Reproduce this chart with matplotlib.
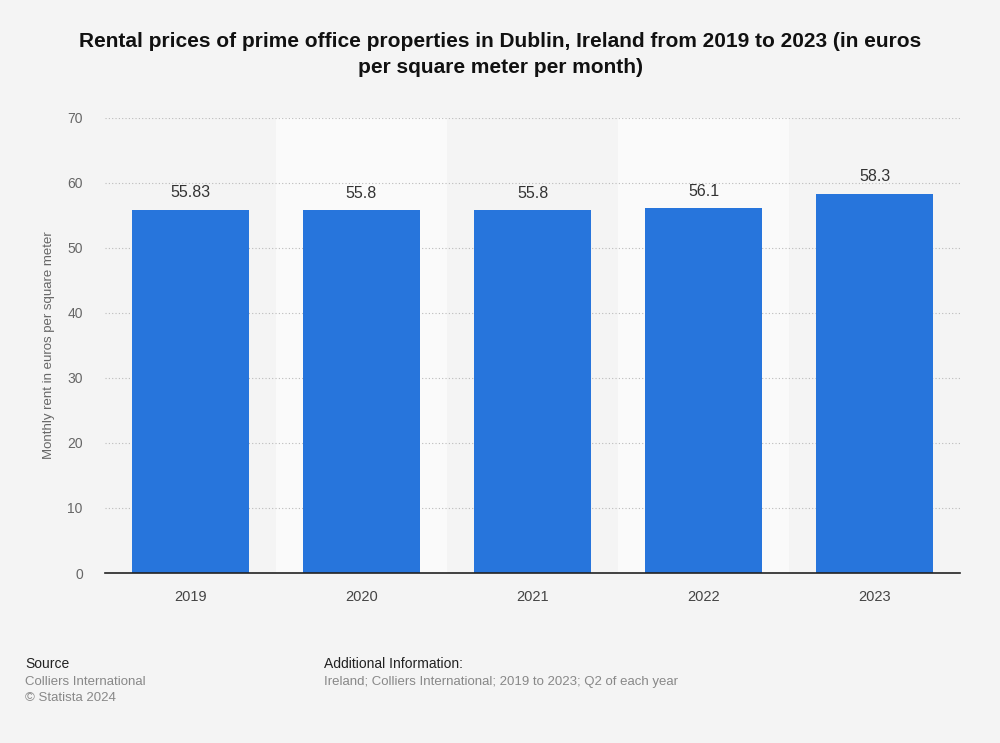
import numpy as np
import matplotlib.pyplot as plt
from matplotlib.patches import Rectangle

# data
years = ['2019', '2020', '2021', '2022', '2023']
rents = [55.83, 55.8, 55.8, 56.1, 58.3]
labels = ['55.83', '55.8', '55.8', '56.1', '58.3']

plt.rcParams['font.family'] = ['Liberation Sans', 'DejaVu Sans']

fig = plt.figure(figsize=(10, 7.43), dpi=100)
fig.patch.set_facecolor('#f4f4f4')
ax = fig.add_axes([0.105, 0.2288, 0.855, 0.6124])
ax.set_facecolor('#f4f4f4')

x = np.arange(len(years))
ax.set_xlim(-0.5, len(years) - 0.5)
ax.set_ylim(0, 70)

# lighter stripes behind every other category
for i in x:
    if i % 2 == 1:
        ax.add_patch(Rectangle((i - 0.5, 0), 1, 70, facecolor='#fafafa', edgecolor='none', zorder=0))

ax.set_yticks(np.arange(0, 71, 10))
ax.grid(axis='y', color='#bbbbbb', linestyle=(0, (1, 2)), linewidth=0.8, zorder=1)
ax.set_axisbelow(True)

bars = ax.bar(x, rents, width=0.69, color='#2775dc', zorder=2)
for xi, v, lab in zip(x, rents, labels):
    ax.text(xi, v + 1.5, lab, ha='center', va='bottom', fontsize=11.5, color='#333333')

ax.set_xticks(x)
ax.set_xticklabels(years)
ax.tick_params(axis='x', length=0, pad=12, labelsize=10.5, labelcolor='#444444')
ax.tick_params(axis='y', length=0, pad=16, labelsize=10, labelcolor='#666666')
for s in ['top', 'right', 'left']:
    ax.spines[s].set_visible(False)
ax.spines['bottom'].set_color('#222222')
ax.spines['bottom'].set_linewidth(1.2)

ax.set_ylabel('Monthly rent in euros per square meter', fontsize=9.5, color='#666666', labelpad=9)

fig.text(0.5, 0.957, 'Rental prices of prime office properties in Dublin, Ireland from 2019 to 2023 (in euros\nper square meter per month)',
         ha='center', va='top', fontsize=15, fontweight='bold', color='#111111', linespacing=1.5)

fig.text(0.025, 0.097, 'Source', fontsize=10, color='#222222', va='bottom')
fig.text(0.025, 0.074, 'Colliers International', fontsize=9.5, color='#888888', va='bottom')
fig.text(0.025, 0.052, '\u00a9 Statista 2024', fontsize=9.5, color='#888888', va='bottom')
fig.text(0.324, 0.097, 'Additional Information:', fontsize=10, color='#222222', va='bottom')
fig.text(0.324, 0.074, 'Ireland; Colliers International; 2019 to 2023; Q2 of each year', fontsize=9.5, color='#888888', va='bottom')

fig.savefig('out.png', dpi=100, facecolor=fig.get_facecolor())
